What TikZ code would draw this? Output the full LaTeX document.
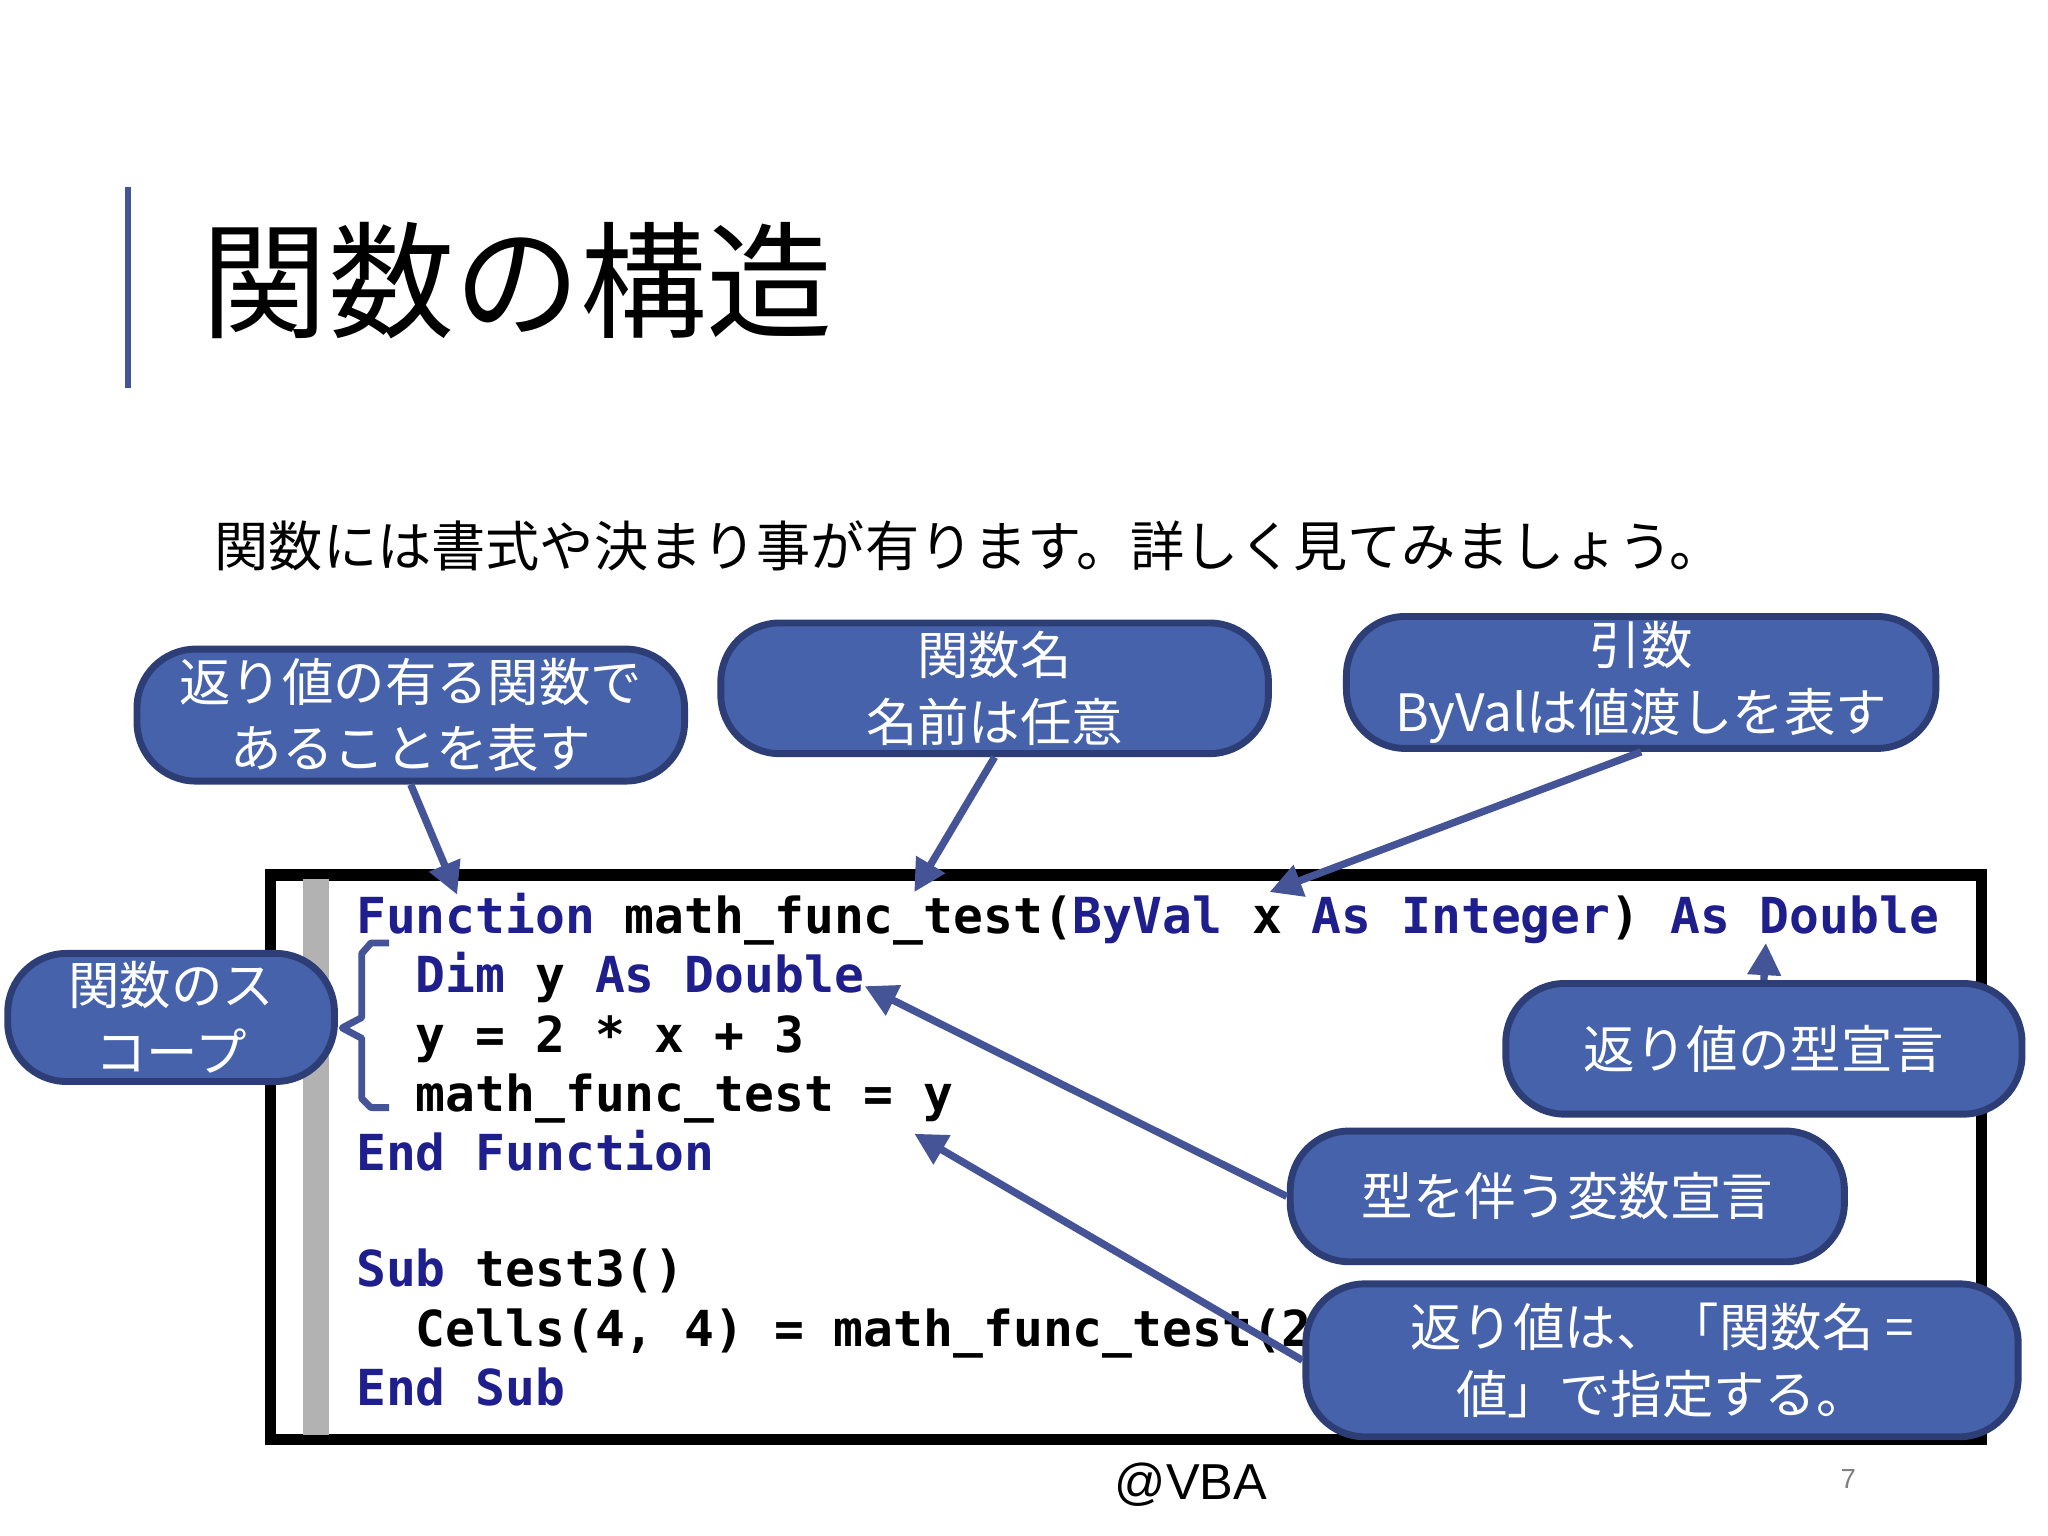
\documentclass[tikz,border=0pt]{standalone}
\usepackage{fontspec}
\setmainfont{Noto Sans CJK JP}
\newfontfamily\codefont{DejaVu Sans Mono}
\newfontfamily\latinfont{Liberation Sans}
\usetikzlibrary{arrows.meta}
\definecolor{bfill}{RGB}{70,98,170}
\definecolor{bedge}{RGB}{45,62,118}
\definecolor{kw}{RGB}{30,30,140}
\definecolor{accent}{RGB}{68,84,150}
\tikzset{
 bubble/.style={draw=bedge,line width=1.5pt,fill=bfill,rounded corners=0.45cm,text=white,font=\fontsize{11.2pt}{14.5pt}\selectfont,align=center,inner sep=0pt},
 pointer/.style={draw=accent,line width=1.6pt,-{Triangle[length=7pt,width=7pt]}},
 codeline/.style={anchor=base west,font=\codefont\bfseries\fontsize{10.8pt}{12pt}\selectfont,inner sep=0pt}
}
\newcommand{\kwd}[1]{\textcolor{kw}{#1}}
\begin{document}
\begin{tikzpicture}[x=0.01cm,y=-0.01cm]
\useasboundingbox (0,0) rectangle (1568,1176);
\fill[white] (0,0) rectangle (1568,1176);
\draw[accent,line width=1.5pt] (98,143) -- (98,297);
\node[anchor=west,font=\fontsize{27.5pt}{30pt}\selectfont] (title) at (142,215) {関数の構造};
\node[anchor=west,font=\fontsize{11.8pt}{14pt}\selectfont] (sub) at (152,418) {関数には書式や決まり事が有ります。詳しく見てみましょう。};
% code box
\fill[black!35] (211,1106) rectangle (1521,674);
\draw[black,line width=2.5pt,fill=white] (207,670) rectangle (1517,1102);
\fill[black!30] (232,673) rectangle (252,1099);
\node[codeline] (l1) at (272,715) {\kwd{Function} math\_func\_test(\kwd{ByVal} x \kwd{As} \kwd{Integer}) \kwd{As} \kwd{Double}};
\node[codeline] (l2) at (272,760) {\ \ \kwd{Dim} y \kwd{As} \kwd{Double}};
\node[codeline] (l3) at (272,806) {\ \ y = 2 * x + 3};
\node[codeline] (l4) at (272,851) {\ \ math\_func\_test = y};
\node[codeline] (l5) at (272,896) {\kwd{End} \kwd{Function}};
\node[codeline] (l6) at (272,985) {\kwd{Sub} test3()};
\node[codeline] (l7) at (272,1031) {\ \ Cells(4, 4) = math\_func\_test(2)};
\node[codeline] (l8) at (272,1076) {\kwd{End} \kwd{Sub}};
% brace
\draw[accent,line width=1.5pt,line join=round] (298,722) -- (284,722) -- (277,730) -- (277,779) -- (262,787) -- (277,795) -- (277,841) -- (284,848) -- (298,848);
% bubbles
\node[bubble,minimum width=4.19cm,minimum height=1.01cm] (b1) at (314.5,547.5) {返り値の有る関数で\\あることを表す};
\node[bubble,minimum width=4.19cm,minimum height=1.0cm] (b2) at (761.5,527) {関数名\\名前は任意};
\node[bubble,minimum width=4.51cm,minimum height=1.01cm] (b3) at (1256.5,522.5) {引数\\ByValは値渡しを表す};
\node[bubble,minimum width=2.5cm,minimum height=0.98cm] (b4) at (131,779) {関数のス\\コープ};
\node[bubble,minimum width=3.95cm,minimum height=1.0cm] (b5) at (1350.5,803) {返り値の型宣言};
\node[bubble,minimum width=4.24cm,minimum height=1.0cm] (b6) at (1200,916) {型を伴う変数宣言};
\node[bubble,minimum width=5.45cm,minimum height=1.17cm] (b7) at (1272.5,1041.5) {返り値は、「関数名 =\\値」で指定する。};
\coordinate (t1) at (350,685);
\coordinate (t2) at (700,683);
\coordinate (t3) at (972,683);
\coordinate (t5) at (1352,722);
\coordinate (t6) at (662,755);
\coordinate (t7) at (700,868);
\draw[pointer] (b1.south) -- (t1);
\draw[pointer] (b2.south) -- (t2);
\draw[pointer] (b3.south) -- (t3);
\draw[pointer] (b5.north) -- (t5);
\draw[pointer] (b6.west) -- (t6);
\draw[pointer] (b7.west) -- (t7);
\node[font=\latinfont\fontsize{11pt}{13pt}\selectfont] (at) at (912,1137) {@VBA};
\node[font=\latinfont\fontsize{6pt}{7pt}\selectfont,text=black!50] (pg) at (1415,1132) {7};
\end{tikzpicture}
\end{document}
